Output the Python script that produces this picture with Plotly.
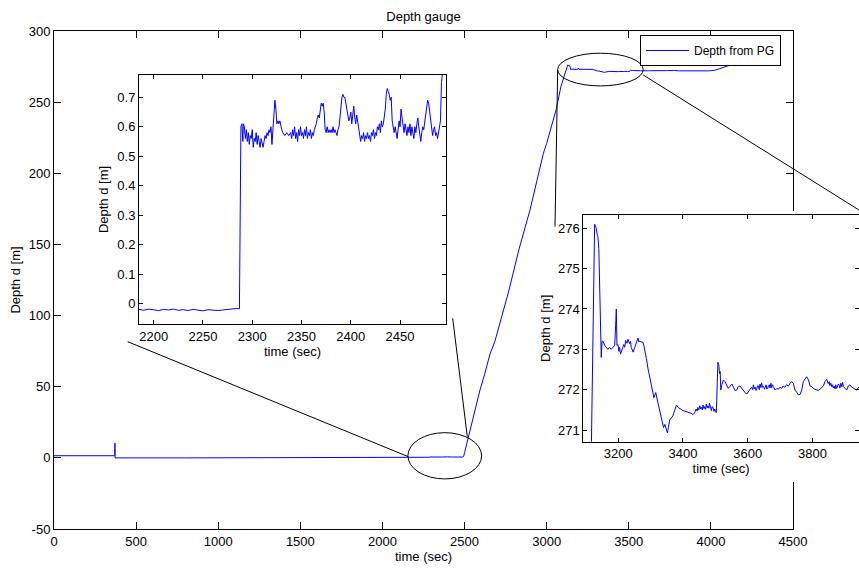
import plotly.graph_objects as go

# ---------------- data ----------------
t_pre = [0, 100, 200, 300, 370, 371, 372, 800, 1200, 1600, 2000, 2180]
d_pre = [1.5, 1.5, 1.4, 1.5, 1.5, 10.3, -0.02, -0.02, -0.021, -0.02, -0.022, -0.021]

t_z1 = [2185, 2190, 2195, 2200, 2205, 2210, 2215, 2220, 2225, 2230, 2235, 2240, 2245, 2250,
        2255, 2260, 2265, 2270, 2275, 2280, 2284, 2287, 2287.5, 2288, 2288.5, 2289.5, 2290.5,
        2291, 2292, 2293, 2294, 2295, 2296, 2297, 2298, 2299, 2300, 2301, 2302, 2303, 2304,
        2305, 2306, 2307, 2308, 2309, 2310, 2311, 2312, 2313, 2314, 2315, 2316, 2317, 2318,
        2319, 2320, 2321, 2322, 2323, 2324, 2325, 2326, 2327, 2328, 2329, 2330, 2331, 2333,
        2335, 2337, 2339, 2340, 2341, 2342, 2343, 2344, 2345, 2346, 2347, 2348, 2349, 2350,
        2351, 2352, 2353, 2354, 2355, 2356, 2357, 2358, 2359, 2360, 2361, 2362, 2363, 2364,
        2365, 2366, 2367, 2368, 2369, 2370, 2371, 2372, 2373, 2374, 2375, 2376, 2377, 2378,
        2379, 2380, 2381, 2382, 2383, 2384, 2385, 2386, 2387, 2388, 2389, 2390, 2391, 2392,
        2393, 2394, 2395, 2396, 2397, 2398, 2399, 2400, 2401, 2402, 2403, 2404, 2405, 2406,
        2407, 2408, 2409, 2410, 2411, 2412, 2413, 2414, 2415, 2416, 2417, 2418, 2419, 2420,
        2421, 2422, 2423, 2424, 2425, 2426, 2427, 2428, 2429, 2430, 2431, 2432, 2433, 2434,
        2435, 2436, 2437, 2438, 2439, 2440, 2441, 2442, 2443, 2444, 2445, 2446, 2447, 2448,
        2449, 2450, 2451, 2452, 2453, 2454, 2455, 2456, 2457, 2458, 2459, 2460, 2461, 2462,
        2463, 2464, 2465, 2466, 2467, 2468, 2469, 2470, 2471, 2472, 2473, 2474, 2475, 2476,
        2477, 2478, 2479, 2480, 2481, 2482, 2483, 2484, 2485, 2486, 2487, 2488, 2489, 2490,
        2491, 2492, 2493, 2494]
d_z1 = [-0.020, -0.023, -0.019, -0.022, -0.024, -0.020, -0.022, -0.019, -0.023, -0.021, -0.024,
        -0.020, -0.022, -0.025, -0.021, -0.023, -0.024, -0.022, -0.020, -0.019, -0.017, -0.018,
        0.16, 0.43, 0.60, 0.61, 0.55, 0.61, 0.60, 0.56, 0.59, 0.55, 0.58, 0.54, 0.57, 0.56, 0.59,
        0.53, 0.56, 0.55, 0.58, 0.54, 0.57, 0.55, 0.53, 0.56, 0.54, 0.53, 0.55, 0.57, 0.56, 0.58,
        0.57, 0.59, 0.58, 0.60, 0.54, 0.60, 0.66, 0.69, 0.66, 0.61, 0.62, 0.61, 0.62, 0.60, 0.59,
        0.58, 0.57, 0.58, 0.57, 0.58, 0.56, 0.59, 0.57, 0.60, 0.56, 0.58, 0.55, 0.59, 0.57, 0.60,
        0.57, 0.58, 0.56, 0.59, 0.57, 0.60, 0.56, 0.58, 0.57, 0.59, 0.56, 0.58, 0.57, 0.59, 0.60,
        0.61, 0.63, 0.64, 0.63, 0.66, 0.68, 0.67, 0.68, 0.65, 0.59, 0.58, 0.60, 0.58, 0.59, 0.58,
        0.59, 0.58, 0.60, 0.58, 0.59, 0.58, 0.57, 0.59, 0.60, 0.63, 0.67, 0.70, 0.71, 0.70, 0.70,
        0.68, 0.66, 0.64, 0.62, 0.63, 0.65, 0.61, 0.64, 0.67, 0.63, 0.61, 0.64, 0.62, 0.59, 0.57,
        0.55, 0.57, 0.56, 0.58, 0.55, 0.57, 0.56, 0.58, 0.56, 0.57, 0.55, 0.58, 0.57, 0.59, 0.56,
        0.58, 0.57, 0.60, 0.59, 0.61, 0.58, 0.62, 0.60, 0.61, 0.63, 0.66, 0.71, 0.73, 0.72, 0.71,
        0.69, 0.70, 0.62, 0.60, 0.58, 0.60, 0.58, 0.56, 0.59, 0.62, 0.60, 0.66, 0.63, 0.60, 0.58,
        0.61, 0.59, 0.57, 0.60, 0.58, 0.61, 0.57, 0.60, 0.58, 0.56, 0.60, 0.58, 0.61, 0.63, 0.60,
        0.57, 0.55, 0.58, 0.60, 0.59, 0.62, 0.64, 0.67, 0.69, 0.68, 0.65, 0.63, 0.60, 0.57, 0.59,
        0.60, 0.57, 0.58, 0.56, 0.58, 0.60, 0.62, 0.75, 0.78, 0.90]

t_rise = [2500, 2517, 2553, 2594, 2624, 2655, 2685, 2720, 2771, 2830, 2898, 2939, 2980, 3000,
          3024, 3057, 3087, 3105, 3115]
d_rise = [3.6, 11.5, 29.0, 47.7, 59.5, 73.0, 82.0, 96.0, 118.0, 146.0, 174.0, 194.0, 214.0,
          221.0, 231.6, 244.5, 261.0, 267.5, 270.2]

t_z2 = [3117, 3120, 3122, 3125, 3127, 3130, 3132, 3135, 3137, 3140, 3142.5, 3145, 3147.5, 3150,
        3153, 3158, 3163, 3168, 3173, 3178, 3184, 3189, 3192, 3194, 3196, 3199, 3202, 3204, 3207,
        3209, 3213, 3217, 3220, 3223, 3227, 3230, 3235, 3238, 3240, 3243, 3246, 3251, 3256, 3261,
        3264, 3266, 3271, 3276, 3279, 3282, 3287, 3292, 3297, 3302, 3307, 3310, 3316, 3320, 3326,
        3331, 3336, 3340, 3344, 3348, 3352, 3355, 3359, 3364, 3369, 3374, 3380, 3385, 3390, 3395,
        3400, 3405, 3410, 3415, 3421, 3426, 3431, 3436, 3441, 3444, 3446, 3449, 3452, 3455, 3457,
        3460, 3462, 3465, 3467, 3470, 3472, 3475, 3477, 3480, 3482, 3485, 3488, 3490, 3493, 3496,
        3498, 3501, 3503, 3506, 3508, 3511, 3513, 3515, 3517, 3520, 3525, 3530, 3535, 3540, 3545,
        3551, 3556, 3561, 3566, 3571, 3576, 3581, 3587, 3592, 3597, 3602, 3607, 3612, 3615, 3618,
        3620, 3623, 3626, 3628, 3631, 3633, 3636, 3638, 3641, 3643, 3646, 3649, 3652, 3654, 3657,
        3659, 3662, 3664, 3667, 3669, 3672, 3674, 3677, 3679, 3685, 3690, 3695, 3700, 3705, 3710,
        3715, 3720, 3726, 3731, 3736, 3741, 3746, 3752, 3757, 3762, 3767, 3772, 3777, 3782, 3788,
        3791, 3793, 3798, 3803, 3808, 3813, 3818, 3823, 3829, 3834, 3839, 3844, 3849, 3852, 3854,
        3857, 3860, 3862, 3865, 3867, 3870, 3872, 3875, 3877, 3880, 3882, 3885, 3888, 3891, 3893,
        3896, 3901, 3906, 3911, 3916, 3922, 3927, 3932, 3937, 3942]
d_z2 = [270.6, 272.1, 273.5, 275.0, 276.1, 276.05, 276.0, 275.85, 275.8, 275.5, 274.7, 273.6,
        272.8, 273.2, 273.2, 273.1, 273.05, 273.0, 273.05, 273.0, 273.05, 273.1, 273.6, 274.0,
        273.1, 273.12, 272.95, 273.05, 272.88, 272.93, 273.0, 273.12, 273.05, 273.22, 273.15,
        273.25, 273.14, 273.2, 273.05, 272.98, 272.93, 273.05, 273.2, 273.28, 273.18, 273.2,
        273.18, 273.18, 273.1, 273.0, 272.77, 272.52, 272.35, 272.1, 271.93, 271.8, 271.93,
        271.77, 271.56, 271.35, 271.14, 271.06, 271.14, 271.02, 270.93, 271.06, 271.25, 271.3,
        271.35, 271.48, 271.62, 271.56, 271.53, 271.5, 271.48, 271.47, 271.46, 271.44, 271.43,
        271.41, 271.38, 271.43, 271.52, 271.47, 271.56, 271.5, 271.6, 271.52, 271.56, 271.5,
        271.62, 271.53, 271.58, 271.51, 271.64, 271.55, 271.6, 271.54, 271.66, 271.55, 271.48,
        271.58, 271.56, 271.46, 271.52, 271.47, 271.43, 272.18, 272.68, 272.6, 272.4, 272.45,
        271.99, 272.12, 272.24, 272.2, 272.12, 272.03, 272.08, 272.14, 272.06, 271.98, 271.99,
        272.08, 272.09, 272.03, 271.99, 271.93, 271.89, 271.95, 272.03, 272.06, 272.0, 272.12,
        272.02, 272.06, 271.98, 272.03, 272.1, 272.09, 272.0, 272.14, 272.05, 272.17, 272.06,
        272.08, 272.01, 272.06, 272.12, 272.02, 272.03, 272.1, 272.12, 272.04, 272.16, 272.05,
        272.12, 272.08, 271.99, 272.03, 272.01, 272.06, 272.03, 272.09, 272.06, 272.12, 272.09,
        272.16, 272.2, 272.16, 271.99, 271.93, 271.87, 271.88, 271.99, 272.2, 272.28, 272.32,
        272.24, 272.16, 272.09, 272.08, 272.03, 272.01, 271.99, 271.98, 272.01, 272.06, 272.09,
        272.2, 272.26, 272.15, 272.2, 272.1, 272.16, 272.07, 272.12, 272.04, 272.09, 272.02,
        272.12, 272.03, 272.06, 272.14, 272.12, 272.04, 272.16, 272.07, 272.18, 272.08, 272.03,
        271.99, 272.09, 272.12, 272.06, 272.03, 272.01, 271.99]

t_post = [3960, 3980, 4000, 4020, 4045, 4075, 4116, 4150, 4177]
d_post = [272.05, 272.1, 272.0, 272.1, 272.3, 273.2, 274.6, 276.0, 277.3]

series_name = "Depth from PG"
main_xticks = [0, 500, 1000, 1500, 2000, 2500, 3000, 3500, 4000, 4500]
main_yticks = [-50, 0, 50, 100, 150, 200, 250, 300]
main_yticklabels = ["-50", "0", "50", "100", "150", "200", "250", "300"]

# ---------------- build ----------------
t_all = t_pre + t_z1 + t_rise + t_z2 + t_post
d_all = d_pre + d_z1 + d_rise + d_z2 + d_post

W, H = 859, 568


def fx(p):
    return p / W


def fy(p):
    return 1 - p / H


BLUE = "#0000FF"
FONT = "Liberation Sans, Arial, sans-serif"
fig = go.Figure()

# main
fig.add_trace(go.Scatter(x=t_all, y=d_all, mode="lines", name=series_name,
                         line=dict(color=BLUE, width=1), xaxis="x", yaxis="y",
                         showlegend=True, hoverinfo="skip"))
# cover region behind inset 2 (empty subplot, only its white background)
fig.add_trace(go.Scatter(x=[None], y=[None], mode="lines", xaxis="x2", yaxis="y2",
                         showlegend=False, hoverinfo="skip"))
# inset 2
fig.add_trace(go.Scatter(x=t_all, y=d_all, mode="lines", line=dict(color=BLUE, width=1),
                         xaxis="x3", yaxis="y3", showlegend=False, hoverinfo="skip"))
# inset 1
fig.add_trace(go.Scatter(x=t_all, y=d_all, mode="lines", line=dict(color=BLUE, width=1),
                         xaxis="x4", yaxis="y4", showlegend=False, hoverinfo="skip"))

tfont = dict(family=FONT, size=13, color="#000")
common = dict(showline=True, linecolor="#000", linewidth=1, mirror="ticks", ticks="inside",
              tickcolor="#000", tickwidth=1, showgrid=False, zeroline=False, tickfont=tfont)


def ttl(text, standoff):
    return dict(text=text, standoff=standoff, font=tfont)


fig.update_layout(
    width=W, height=H, margin=dict(l=0, r=0, t=0, b=0, autoexpand=False),
    paper_bgcolor="white", plot_bgcolor="white",
    font=dict(family=FONT, size=13, color="#000"),
    title=dict(text="Depth gauge", x=fx(423.5), xanchor="center", y=fy(16), yanchor="middle",
               font=tfont),
    xaxis=dict(domain=[fx(54), fx(793)], range=[0, 4500], tickvals=main_xticks, ticklen=7,
               anchor="y", title=ttl("time (sec)", 4), **common),
    yaxis=dict(domain=[fy(529), fy(31)], range=[-50, 300], tickvals=main_yticks,
               ticktext=main_yticklabels, ticklen=7, anchor="x",
               title=ttl("Depth d [m]", 5), **common),
    xaxis2=dict(domain=[fx(555), 1.0], anchor="y2", visible=False, range=[0, 1]),
    yaxis2=dict(domain=[fy(482), fy(211)], anchor="x2", visible=False, range=[0, 1]),
    xaxis3=dict(domain=[fx(583.3), 1.0], range=[3092, 3944], dtick=200, ticklen=4,
                anchor="y3", title=ttl("time (sec)", 3), **common),
    yaxis3=dict(domain=[fy(441.7), fy(215)], range=[270.71, 276.33], dtick=1, ticklen=4,
                anchor="x3", title=ttl("Depth d [m]", 4), **common),
    xaxis4=dict(domain=[fx(139), fx(446)], range=[2185.1, 2496.6], dtick=50, ticklen=4,
                anchor="y4", title=ttl("time (sec)", 3), **common),
    yaxis4=dict(domain=[fy(324), fy(75)], range=[-0.0696, 0.7757], dtick=0.1, ticklen=4,
                anchor="x4", title=ttl("Depth d [m]", 5), **common),
    legend=dict(x=fx(640), y=fy(35), xanchor="left", yanchor="top", bgcolor="white",
                bordercolor="#000", borderwidth=1, itemwidth=43,
                font=dict(family=FONT, size=12, color="#000")),
    showlegend=True,
)

# zoom ellipses (in main data coordinates)
fig.add_shape(type="circle", xref="x", yref="y", x0=2155, x1=2604, y0=-14.8, y1=17.7,
              line=dict(color="#000", width=1), layer="above")
fig.add_shape(type="circle", xref="x", yref="y", x0=3067, x1=3588, y0=261.4, y1=284.4,
              line=dict(color="#000", width=1), layer="above")
# connector lines (paper coordinates)
for (a, b, c, d) in [(408.3, 456.7, 127.7, 341.7), (452.7, 318.3, 467.3, 436.7),
                     (557.7, 70, 555, 226.7), (643.3, 75, 859, 210)]:
    fig.add_shape(type="line", xref="paper", yref="paper", x0=fx(a), y0=fy(b), x1=fx(c), y1=fy(d),
                  line=dict(color="#000", width=1), layer="above")

fig.write_html("out.html", post_script="document.body.style.margin='0';document.body.style.overflow='hidden';")
